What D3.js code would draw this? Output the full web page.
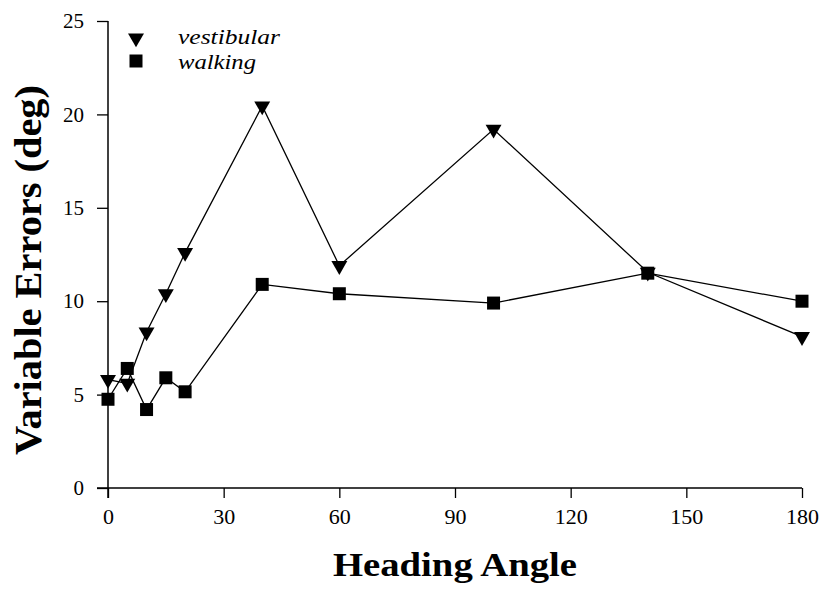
<!DOCTYPE html>
<html>
<head>
<meta charset="utf-8">
<script src="https://cdn.jsdelivr.net/npm/d3@7"></script>
<style>
  body { margin: 0; background: #fff; }
  svg text { font-family: serif; }
</style>
</head>
<body>
<div id="chart"></div>
<script>
// heading angles (deg)
var angles = [0, 5, 10, 15, 20, 40, 60, 100, 140, 180];
// variable errors (deg)
var vestibular = [5.8, 5.6, 8.35, 10.4, 12.6, 20.45, 11.9, 19.2, 11.55, 8.1];
var walking = [4.75, 6.4, 4.2, 5.9, 5.15, 10.9, 10.4, 9.9, 11.5, 10.0];

var xTicks = [0, 30, 60, 90, 120, 150, 180];
var yTicks = [0, 5, 10, 15, 20, 25];

var width = 833, height = 593;

var svg = d3.select('#chart').append('svg')
    .attr('width', width)
    .attr('height', height);

var x = d3.scaleLinear().domain([0, 180]).range([108, 802]);
var y = d3.scaleLinear().domain([0, 25]).range([488, 21]);

// axes
var yAxis = svg.append('g')
    .attr('transform', 'translate(' + x(0) + ',0)')
    .call(d3.axisLeft(y).tickValues(yTicks).tickSize(11).tickSizeOuter(0).tickPadding(13));
yAxis.select('.domain').remove();
yAxis.selectAll('.tick text').style('font-family', 'serif').style('font-size', '21px');
yAxis.selectAll('.tick line').attr('stroke-width', 1.3);

var xAxis = svg.append('g')
    .attr('transform', 'translate(0,' + y(0) + ')')
    .call(d3.axisBottom(x).tickValues(xTicks).tickSize(10).tickSizeOuter(0).tickPadding(10));
xAxis.select('.domain').remove();
xAxis.selectAll('.tick text').style('font-family', 'serif').style('font-size', '22px');
xAxis.selectAll('.tick line').attr('stroke-width', 1.3);

// axis lines (cross at origin)
svg.append('line')
    .attr('x1', x(0)).attr('x2', x(0))
    .attr('y1', y(25)).attr('y2', y(0) + 10)
    .attr('stroke', '#000').attr('stroke-width', 1.5);
svg.append('line')
    .attr('x1', x(0) - 11).attr('x2', x(180))
    .attr('y1', y(0)).attr('y2', y(0))
    .attr('stroke', '#000').attr('stroke-width', 1.5);

// series lines
var line = d3.line()
    .x(function(d) { return x(d[0]); })
    .y(function(d) { return y(d[1]); });

var vData = angles.map(function(a, i) { return [a, vestibular[i]]; });
var wData = angles.map(function(a, i) { return [a, walking[i]]; });

[vData, wData].forEach(function(data) {
    svg.append('path')
        .datum(data)
        .attr('d', line)
        .attr('fill', 'none')
        .attr('stroke', '#000')
        .attr('stroke-width', 1.3);
});

var tri = d3.symbol().type(d3.symbolTriangle).size(110);
var sq = d3.symbol().type(d3.symbolSquare).size(169);

svg.selectAll('.vpt').data(vData).enter().append('path')
    .attr('class', 'vpt')
    .attr('d', tri)
    .attr('transform', function(d) { return 'translate(' + x(d[0]) + ',' + y(d[1]) + ') rotate(180)'; })
    .attr('fill', '#000');

svg.selectAll('.wpt').data(wData).enter().append('path')
    .attr('class', 'wpt')
    .attr('d', sq)
    .attr('transform', function(d) { return 'translate(' + x(d[0]) + ',' + y(d[1]) + ')'; })
    .attr('fill', '#000');

// legend
svg.append('path').attr('d', tri)
    .attr('transform', 'translate(136,38) rotate(180)').attr('fill', '#000');
svg.append('path').attr('d', sq)
    .attr('transform', 'translate(136,61)').attr('fill', '#000');
svg.append('text').attr('x', 178).attr('y', 44)
    .attr('textLength', 102).attr('lengthAdjust', 'spacingAndGlyphs')
    .style('font-size', '22px').style('font-style', 'italic').text('vestibular');
svg.append('text').attr('x', 178).attr('y', 69)
    .attr('textLength', 78).attr('lengthAdjust', 'spacingAndGlyphs')
    .style('font-size', '22px').style('font-style', 'italic').text('walking');

// titles
svg.append('text')
    .attr('x', 455).attr('y', 576)
    .attr('text-anchor', 'middle')
    .attr('textLength', 244).attr('lengthAdjust', 'spacingAndGlyphs')
    .style('font-size', '34px').style('font-weight', 'bold')
    .text('Heading Angle');

svg.append('text')
    .attr('transform', 'translate(41,270) rotate(-90)')
    .attr('text-anchor', 'middle')
    .attr('textLength', 370).attr('lengthAdjust', 'spacingAndGlyphs')
    .style('font-size', '38px').style('font-weight', 'bold')
    .text('Variable Errors (deg)');
</script>
</body>
</html>
